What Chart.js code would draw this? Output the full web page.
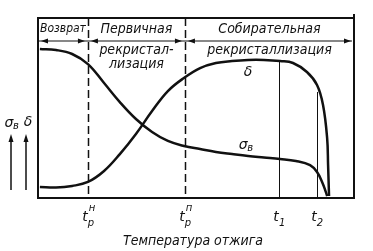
<!DOCTYPE html>
<html>
<head>
<meta charset="utf-8">
<script src="https://cdn.jsdelivr.net/npm/chart.js@4/dist/chart.umd.min.js"></script>
<style>
  html, body { margin: 0; padding: 0; background: #fff; }
  #wrap { width: 373px; height: 251px; position: relative; }
</style>
</head>
<body>
<div id="wrap"><canvas id="recrystChart"></canvas></div>
<script>
// temperature (0..100 across the box), property level (0..100 bottom to top)
const sigmaX = [0.6, 5.7, 10.8, 15.8, 20.9, 25.9, 31.0, 36.1, 41.1, 46.2, 51.3, 56.3, 61.4, 66.5, 71.5, 76.6, 81.6, 86.1, 88.3, 89.9, 91.1, 91.5]
const sigmaY = [82.8, 82.2, 80.0, 74.4, 63.9, 53.3, 43.9, 36.7, 31.7, 28.9, 27.2, 25.6, 24.4, 23.3, 22.5, 21.7, 20.6, 18.3, 14.4, 8.9, 3.3, 1.1]
const deltaX = [0.6, 5.7, 10.8, 15.8, 20.9, 25.9, 31.0, 36.1, 41.1, 46.2, 51.3, 56.3, 61.4, 66.5, 71.5, 76.6, 80.7, 85.1, 88.3, 90.2, 91.5, 91.8, 92.1]
const deltaY = [6.1, 5.8, 6.7, 8.9, 15.0, 24.4, 35.6, 48.3, 59.4, 66.7, 72.2, 75.0, 76.1, 76.7, 76.7, 76.1, 75.0, 70.0, 62.8, 51.7, 33.3, 18.3, 1.1]

const stageBounds = [0, 15.8, 46.5, 100]   // Возврат | Первичная | Собирательная
const stageNames = [['Возврат'], ['Первичная', 'рекристал-', 'лизация'], ['Собирательная', 'рекристаллизация']]
const dashedX = [15.8, 46.5]
const solidX = [76.3, 88.3]
const solidTop = [76.1, 58.9]
const tempTicks = [
    {x: 15.8, base: 't', sub: 'р', sup: 'н'},
    {x: 46.5, base: 't', sub: 'р', sup: 'п'},
    {x: 76.3, base: 't', sub: '1', sup: ''},
    {x: 88.3, base: 't', sub: '2', sup: ''}
]

const toPts = (xs, ys) => xs.map((x, i) => ({x: x, y: ys[i]}))
const FONT_S = 'italic 12px "DejaVu Sans Condensed", "DejaVu Sans", sans-serif'
const FONT_L = 'italic 14px "DejaVu Sans Condensed", "DejaVu Sans", sans-serif'

function arrowHead(c, x, y, dir) {
    c.beginPath()
    c.moveTo(x, y)
    c.lineTo(x - dir * 7, y - 2.5)
    c.lineTo(x - dir * 7, y + 2.5)
    c.closePath()
    c.fill()
}

const decor = {
    id: 'decor',
    beforeDatasetsDraw(chart) {
        const c = chart.ctx, a = chart.chartArea
        const xs = chart.scales.x, ys = chart.scales.y
        c.save()
        c.strokeStyle = '#111'
        // dashed stage lines
        c.lineWidth = 1.5
        c.setLineDash([8, 4])
        dashedX.forEach(v => {
            const px = Math.round(xs.getPixelForValue(v)) + 0.5
            c.beginPath(); c.moveTo(px, a.top); c.lineTo(px, a.bottom); c.stroke()
        })
        c.setLineDash([])
        c.lineWidth = 1
        solidX.forEach((v, i) => {
            const px = Math.round(xs.getPixelForValue(v)) + 0.5
            c.beginPath(); c.moveTo(px, ys.getPixelForValue(solidTop[i])); c.lineTo(px, a.bottom); c.stroke()
        })
        c.restore()
    },
    afterDraw(chart) {
        const c = chart.ctx, a = chart.chartArea
        const xs = chart.scales.x, ys = chart.scales.y
        c.save()
        c.strokeStyle = '#111'
        c.fillStyle = '#111'
        // frame
        c.lineWidth = 2
        c.strokeRect(a.left, a.top, a.right - a.left, a.bottom - a.top)
        c.beginPath(); c.moveTo(a.right, a.top - 4); c.lineTo(a.right, a.top); c.stroke()
        // stage arrows
        const ay = a.top + 23
        c.lineWidth = 1.2
        c.beginPath(); c.moveTo(a.left, ay); c.lineTo(a.right - 2, ay); c.stroke()
        for (let i = 0; i < 3; i++) {
            const l = xs.getPixelForValue(stageBounds[i]), r = xs.getPixelForValue(stageBounds[i + 1])
            arrowHead(c, l + 3, ay, -1)
            arrowHead(c, r - 3, ay, 1)
        }
        // stage names
        c.textAlign = 'center'
        c.textBaseline = 'middle'
        stageNames.forEach((lines, i) => {
            const cx = (xs.getPixelForValue(stageBounds[i]) + xs.getPixelForValue(stageBounds[i + 1])) / 2
            c.font = i === 0 ? FONT_S : FONT_L
            c.fillText(lines[0], cx, a.top + 11)
            for (let k = 1; k < lines.length; k++) c.fillText(lines[k], cx, a.top + 32 + (k - 1) * 14)
        })
        // curve labels
        c.font = 'italic 14px "DejaVu Sans", sans-serif'
        c.fillText('δ', xs.getPixelForValue(66.5), ys.getPixelForValue(70))
        c.fillText('σ', xs.getPixelForValue(64.9), ys.getPixelForValue(29.4))
        c.font = 'italic 10px "DejaVu Sans", sans-serif'
        c.fillText('в', xs.getPixelForValue(64.9) + 7, ys.getPixelForValue(29.4) + 3)
        // y-axis label with arrows
        c.font = 'italic 14px "DejaVu Sans", sans-serif'
        c.fillText('σ', 9, 123)
        c.font = 'italic 10px "DejaVu Sans", sans-serif'
        c.fillText('в', 16, 126)
        c.font = 'italic 14px "DejaVu Sans", sans-serif'
        c.fillText('δ', 28, 122)
        c.lineWidth = 1.5
        ;[11, 26].forEach(x => {
            c.beginPath(); c.moveTo(x, 190); c.lineTo(x, 140); c.stroke()
            c.beginPath(); c.moveTo(x, 134); c.lineTo(x - 2.5, 142); c.lineTo(x + 2.5, 142); c.closePath(); c.fill()
        })
        // temperature ticks
        tempTicks.forEach(t => {
            const px = xs.getPixelForValue(t.x)
            c.font = 'italic 14px "DejaVu Sans", sans-serif'
            c.fillText(t.base, px - 3, a.bottom + 19)
            c.font = 'italic 10px "DejaVu Sans", sans-serif'
            c.fillText(t.sub, px + 3, a.bottom + 25)
            if (t.sup) c.fillText(t.sup, px + 4, a.bottom + 10)
        })
        c.font = FONT_L
        c.fillText('Температура отжига', (a.left + a.right) / 2 - 3, a.bottom + 43)
        c.restore()
    }
}

try {
    const ctx = document.getElementById('recrystChart').getContext('2d')
    const myChart = new Chart(ctx, {
        type: 'scatter',
        data: {
            datasets: [{
                label: 'σв',
                data: toPts(sigmaX, sigmaY),
                showLine: true,
                borderColor: '#111',
                borderWidth: 2.5,
                pointRadius: 0,
                tension: 0.4
            }, {
                label: 'δ',
                data: toPts(deltaX, deltaY),
                showLine: true,
                borderColor: '#111',
                borderWidth: 2.5,
                pointRadius: 0,
                tension: 0.4
            }]
        },
        options: {
            responsive: true,
            maintainAspectRatio: false,
            animation: false,
            layout: {padding: {left: 38, right: 19, top: 18, bottom: 53}},
            plugins: {legend: {display: false}, tooltip: {enabled: false}},
            scales: {
                x: {type: 'linear', min: 0, max: 100, display: false},
                y: {min: 0, max: 100, display: false}
            }
        },
        plugins: [decor]
    })
} catch (error) {
    console.log(error)
}
</script>
</body>
</html>
